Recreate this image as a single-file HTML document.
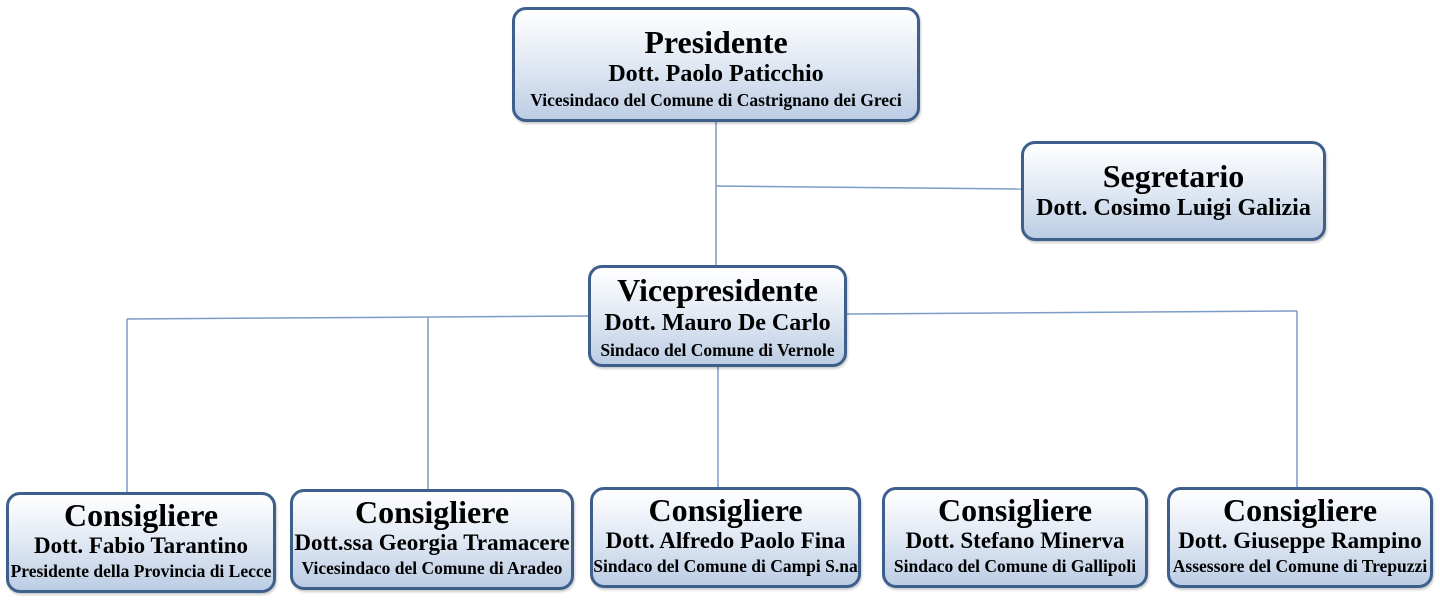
<!DOCTYPE html>
<html><head><meta charset="utf-8"><style>
body{margin:0;width:1440px;height:602px;background:#fff;position:relative;overflow:hidden;font-family:"Liberation Serif",serif;font-weight:bold;color:#000}
.b{position:absolute;box-sizing:border-box;border:3px solid #3e5f8c;border-radius:14px;background:linear-gradient(#ffffff 0%,#e4ebf5 45%,#bccde4 100%);display:flex;flex-direction:column;align-items:center;justify-content:center;text-align:center;white-space:nowrap;box-shadow:1px 2px 2px rgba(0,0,0,.2)}
.t{font-size:32px;line-height:33px}
.n{font-size:24px;line-height:28px}
.c .n{font-size:23px}
.s{font-size:17.5px;line-height:22px}
svg{position:absolute;left:0;top:0}
</style></head><body>
<svg width="1440" height="602"><g stroke="#7c9cc6" stroke-width="1.5" fill="none">
<line x1="716" y1="122" x2="716" y2="265"/>
<line x1="716" y1="186" x2="1021" y2="189"/>
<line x1="127" y1="319" x2="588" y2="316"/>
<line x1="847" y1="314" x2="1297" y2="311"/>
<line x1="127" y1="319" x2="127" y2="492"/>
<line x1="428" y1="318" x2="428" y2="489"/>
<line x1="718" y1="367" x2="718" y2="487"/>
<line x1="1297" y1="311" x2="1297" y2="487"/>
</g></svg>
<div class="b" style="left:512px;top:7px;width:408px;height:115px;padding-top:6px"><div class="t" style="line-height:34px">Presidente</div><div class="n" style="line-height:30px">Dott. Paolo Paticchio</div><div class="s">Vicesindaco del Comune di Castrignano dei Greci</div></div>
<div class="b" style="left:1021px;top:141px;width:305px;height:100px;padding-top:2px"><div class="t">Segretario</div><div class="n" style="line-height:31px">Dott. Cosimo Luigi Galizia</div></div>
<div class="b" style="left:588px;top:265px;width:259px;height:102px;padding-top:2px"><div class="t">Vicepresidente</div><div class="n" style="line-height:32px">Dott. Mauro De Carlo</div><div class="s">Sindaco del Comune di Vernole</div></div>
<div class="b c" style="left:6px;top:492px;width:270px;height:101px;padding-bottom:4px"><div class="t">Consigliere</div><div class="n">Dott. Fabio Tarantino</div><div class="s">Presidente della Provincia di Lecce</div></div>
<div class="b c" style="left:290px;top:489px;width:284px;height:101px;padding-bottom:4px"><div class="t">Consigliere</div><div class="n">Dott.ssa Georgia Tramacere</div><div class="s">Vicesindaco del Comune di Aradeo</div></div>
<div class="b c" style="left:590px;top:487px;width:271px;height:101px;padding-bottom:4px"><div class="t">Consigliere</div><div class="n">Dott. Alfredo Paolo Fina</div><div class="s">Sindaco del Comune di Campi S.na</div></div>
<div class="b c" style="left:882px;top:487px;width:266px;height:101px;padding-bottom:4px"><div class="t">Consigliere</div><div class="n">Dott. Stefano Minerva</div><div class="s">Sindaco del Comune di Gallipoli</div></div>
<div class="b c" style="left:1167px;top:487px;width:266px;height:101px;padding-bottom:4px"><div class="t">Consigliere</div><div class="n">Dott. Giuseppe Rampino</div><div class="s">Assessore del Comune di Trepuzzi</div></div>
</body></html>
